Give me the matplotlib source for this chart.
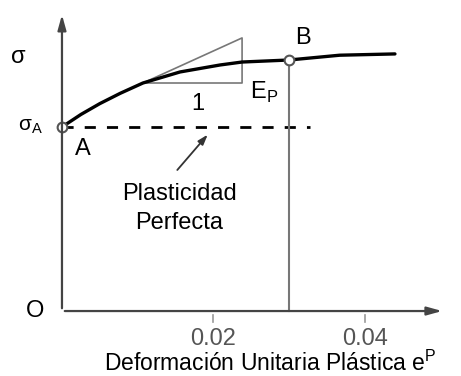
import numpy as np
import matplotlib.pyplot as plt

plt.rcParams['font.family'] = ['Liberation Sans', 'DejaVu Sans']

# curva esfuerzo - deformacion plastica
eps_p = [0.0, 0.0025, 0.0050, 0.0077, 0.0107, 0.0156, 0.0209, 0.0238, 0.0300, 0.0367, 0.0440]
sigma = [1.000, 1.068, 1.127, 1.183, 1.239, 1.299, 1.337, 1.353, 1.364, 1.390, 1.397]

sigma_A = 1.0
eps_B, sigma_B = 0.0300, 1.364
eps_perfect_end = 0.0328

# triangulo de pendiente Ep
tri_x = [0.0107, 0.0238, 0.0238, 0.0107]
tri_y = [1.239, 1.239, 1.484, 1.239]

tick_pos = [0.02, 0.04]
tick_labels = ['0.02', '0.04']

fig = plt.figure(figsize=(4.61, 3.76), dpi=100)
ax = fig.add_axes([0, 0, 1, 1])
ax.set_xlim(-0.00819, 0.05273)
ax.set_ylim(-0.353, 1.690)
ax.axis('off')

axc = '#444444'
# ejes con flecha
ax.annotate('', xy=(0, 1.625), xytext=(0, 0),
            arrowprops=dict(arrowstyle='-|>,head_length=0.9,head_width=0.25', color=axc, lw=1.6))
ax.annotate('', xy=(0.0506, 0), xytext=(0, 0),
            arrowprops=dict(arrowstyle='-|>,head_length=0.9,head_width=0.25', color=axc, lw=1.6))

# ticks
for t, lab in zip(tick_pos, tick_labels):
    ax.plot([t, t], [-0.02, -0.06], color='#999999', lw=1.2)
    ax.text(t, -0.15, lab, ha='center', va='center', fontsize=17, color='#555555')

# plasticidad perfecta
ax.plot([0, eps_perfect_end], [sigma_A, sigma_A], color='black', lw=2, dashes=(4, 4))
# linea vertical en B
ax.plot([eps_B, eps_B], [0, sigma_B], color='#777777', lw=1.5)
# triangulo
ax.plot(tri_x, tri_y, color='#777777', lw=1.2)
# curva
ax.plot(eps_p, sigma, color='black', lw=2.4, solid_capstyle='round')
# puntos A y B
ax.plot([0, eps_B], [sigma_A, sigma_B], 'o', ms=7, mfc='white', mec='#555555', mew=1.5)

# textos
ax.text(-0.0058, 1.38, 'σ', fontsize=17, ha='center', va='center')
ax.text(-0.0042, 1.0, r'σ$_\mathregular{A}$', fontsize=15, ha='center', va='center')
ax.text(0.0028, 0.88, 'A', fontsize=17, ha='center', va='center')
ax.text(0.0318, 1.485, 'B', fontsize=17, ha='center', va='center')
ax.text(-0.0036, 0.0, 'O', fontsize=17, ha='center', va='center')
ax.text(0.0180, 1.125, '1', fontsize=17, ha='center', va='center')
ax.text(0.0248, 1.19, r'E$_\mathregular{P}$', fontsize=17, ha='left', va='center')

ax.annotate('', xy=(0.0195, 0.97), xytext=(0.0150, 0.755),
            arrowprops=dict(arrowstyle='-|>,head_length=0.6,head_width=0.2', color='#333333', lw=1.3))
ax.text(0.0155, 0.555, 'Plasticidad\nPerfecta', fontsize=17, ha='center', va='center',
        linespacing=1.4)

ax.text(0.0275, -0.285, r'Deformación Unitaria Plástica e$^\mathregular{P}$', fontsize=16.5,
        ha='center', va='center')

fig.savefig('out.png', dpi=100)
